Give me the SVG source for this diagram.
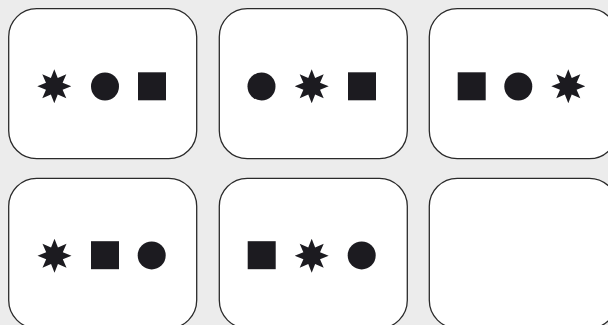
<svg xmlns="http://www.w3.org/2000/svg" xmlns:xlink="http://www.w3.org/1999/xlink" width="608" height="325" viewBox="0 0 608 325">
<style>
.card{fill:#ffffff;stroke:#2a2a2a;stroke-width:1.3}
.sh{fill:#1c1b20}
</style>
<defs>
<polygon id="star" class="sh" points="0,-17 3.44,-8.32 12.02,-12.02 8.32,-3.44 17,0 8.32,3.44 12.02,12.02 3.44,8.32 0,17 -3.44,8.32 -12.02,12.02 -8.32,3.44 -17,0 -8.32,-3.44 -12.02,-12.02 -3.44,-8.32"/>
</defs>
<rect width="608" height="325" fill="#ececec"/>
<g id="card1">
<rect class="card" x="8.7" y="8.7" width="188" height="150" rx="28"/>
<use href="#star" xlink:href="#star" x="54.3" y="86.3"/>
<circle class="sh" cx="105" cy="86.5" r="14"/>
<rect class="sh" x="138" y="72.3" width="28" height="28"/>
</g>
<g id="card2">
<rect class="card" x="219.3" y="8.7" width="188" height="150" rx="28"/>
<circle class="sh" cx="261.5" cy="86.5" r="14"/>
<use href="#star" xlink:href="#star" x="311.7" y="86.3"/>
<rect class="sh" x="348" y="72.3" width="28" height="28"/>
</g>
<g id="card3">
<rect class="card" x="429.3" y="8.7" width="188" height="150" rx="28"/>
<rect class="sh" x="457.7" y="72.3" width="28" height="28"/>
<circle class="sh" cx="518.3" cy="86.5" r="14"/>
<use href="#star" xlink:href="#star" x="568.3" y="86.3"/>
</g>
<g id="card4">
<rect class="card" x="8.7" y="178.3" width="188" height="150" rx="28"/>
<use href="#star" xlink:href="#star" x="54.5" y="255.8"/>
<rect class="sh" x="91" y="241.2" width="28" height="28"/>
<circle class="sh" cx="151.7" cy="255.4" r="14"/>
</g>
<g id="card5">
<rect class="card" x="219.3" y="178.3" width="188" height="150" rx="28"/>
<rect class="sh" x="247.7" y="241.2" width="28" height="28"/>
<use href="#star" xlink:href="#star" x="311.7" y="255.8"/>
<circle class="sh" cx="361.7" cy="255.4" r="14"/>
</g>
<g id="card6">
<rect class="card" x="429.3" y="178.3" width="188" height="150" rx="28"/>
</g>
<g id="connectors"/>
</svg>
